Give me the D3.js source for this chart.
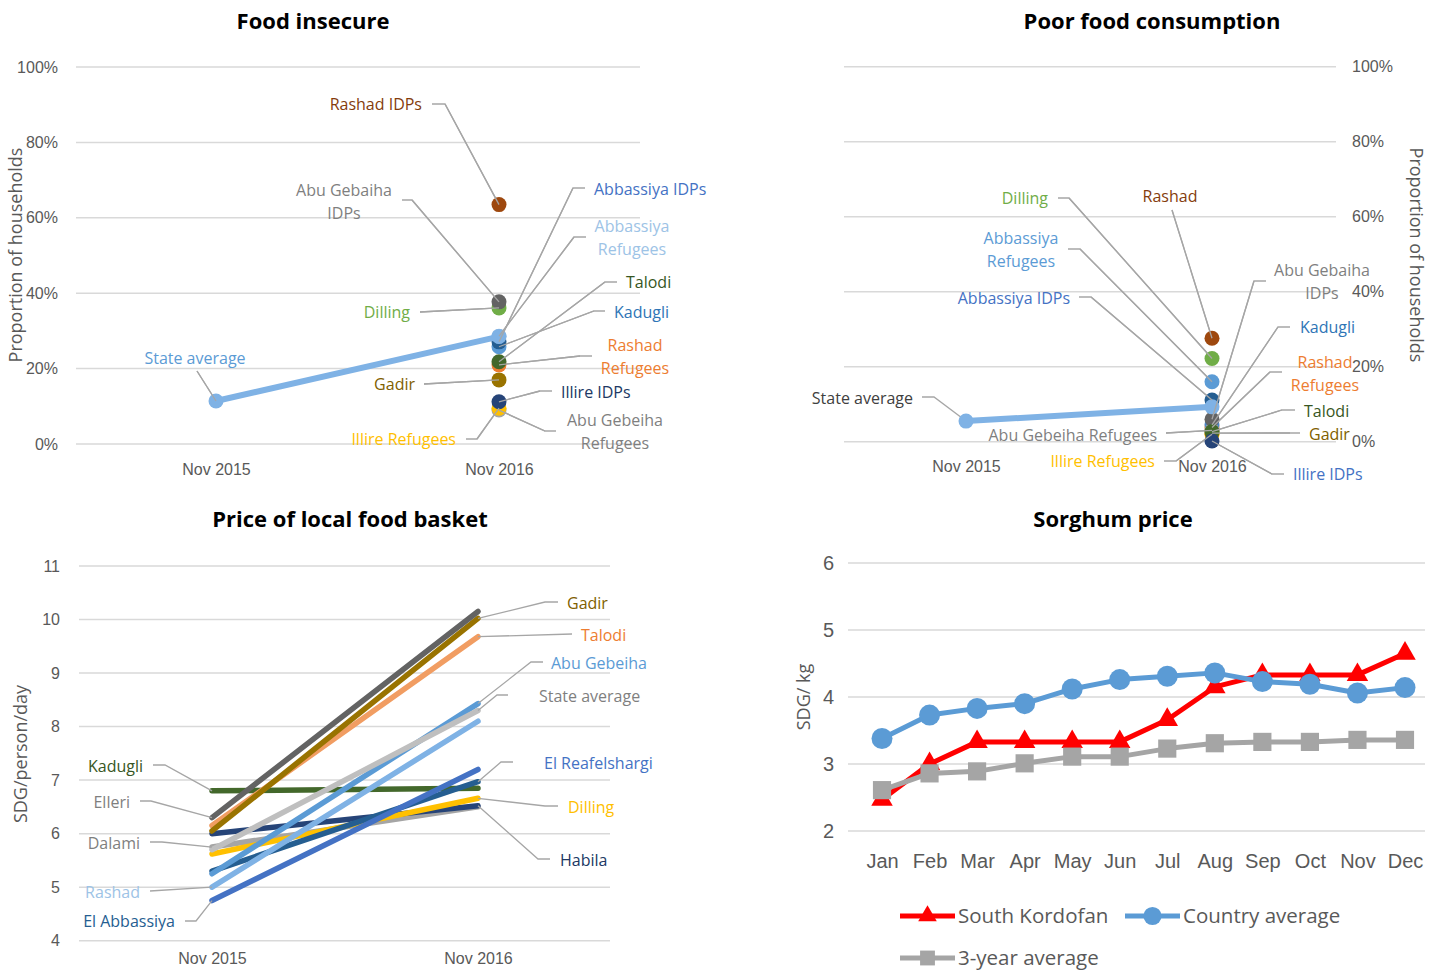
<!DOCTYPE html>
<html>
<head>
<meta charset="utf-8">
<script src="https://cdn.jsdelivr.net/npm/d3@7"></script>
<style>
  html, body { margin: 0; padding: 0; background: #fff; }
  svg { display: block; font-family: "Open Sans", "Noto Sans", sans-serif; }
</style>
</head>
<body>
<svg id="chart" width="1439" height="972"></svg>
<script>
// ---------- data ----------
const periods = ["Nov 2015", "Nov 2016"];

// Food insecure (% of households), Nov 2016 by group
const fiGroups = ["Rashad IDPs", "Abu Gebeiha Refugees", "Illire Refugees", "Illire IDPs", "Gadir",
  "Rashad Refugees", "Talodi", "Kadugli", "Abbassiya IDPs", "Abbassiya Refugees", "Dilling", "Abu Gebaiha IDPs"];
const fiValues = [63.5, 9.0, 9.5, 11.2, 17.0, 21.0, 21.8, 25.8, 27.1, 28.6, 36.1, 37.7];
const fiDotColors = ["#9e480e", "#a5a5a5", "#ffc000", "#264478", "#997300",
  "#ed7d31", "#43682b", "#5b9bd5", "#255e91", "#9dc3e6", "#70ad47", "#636363"];
const fiLabelColors = ["#843c0c", "#7f7f7f", "#ffc000", "#203864", "#7f6000",
  "#ed7d31", "#375623", "#2e75b6", "#4472c4", "#9dc3e6", "#70ad47", "#7f7f7f"];
const fiStateAverage = [11.4, 28.5];

// Poor food consumption (% of households), Nov 2016 by group
const pfGroups = ["Rashad", "Dilling", "Abbassiya Refugees", "Abbassiya IDPs", "Rashad Refugees", "Kadugli",
  "Abu Gebeiha Refugees", "Illire Refugees", "Abu Gebaiha IDPs", "Gadir", "Talodi", "Illire IDPs"];
const pfValues = [27.6, 22.2, 16.0, 11.1, 3.8, 4.5, 3.0, 2.0, 6.0, 2.3, 2.7, 0.2];
const pfDotColors = ["#9e480e", "#70ad47", "#5b9bd5", "#255e91", "#ed7d31", "#4a86c8",
  "#a5a5a5", "#ffc000", "#636363", "#997300", "#43682b", "#264478"];
const pfLabelColors = ["#843c0c", "#70ad47", "#5b9bd5", "#4472c4", "#ed7d31", "#2e75b6",
  "#7f7f7f", "#ffc000", "#7f7f7f", "#7f6000", "#375623", "#4472c4"];
const pfStateAverage = [5.5, 9.3];

// Price of local food basket (SDG/person/day)
const basketLocalities = ["Kadugli", "Dalami", "Habila", "Dilling", "El Reafelshargi", "El Abbassiya",
  "Rashad", "Abu Gebeiha", "State average", "Talodi", "Gadir", "Elleri"];
const basket2015 = [6.8, 5.75, 6.0, 5.62, 5.3, 4.75, 5.0, 5.25, 5.7, 6.15, 6.05, 6.3];
const basket2016 = [6.85, 6.5, 6.52, 6.66, 6.97, 7.2, 8.1, 8.43, 8.3, 9.68, 10.02, 10.15];
const basketColors = ["#43682b", "#a5a5a5", "#264478", "#ffc000", "#255e91", "#4472c4",
  "#7fb2e5", "#5b9bd5", "#bfbfbf", "#f19d62", "#997300", "#636363"];
const basketLabelColors = ["#375623", "#7f7f7f", "#203864", "#ffc000", "#4472c4", "#255e91",
  "#9dc3e6", "#5b9bd5", "#7f7f7f", "#ed7d31", "#7f6000", "#7f7f7f"];
const basketTicks = [4, 5, 6, 7, 8, 9, 10, 11];

// Sorghum price (SDG/kg)
const months = ["Jan", "Feb", "Mar", "Apr", "May", "Jun", "Jul", "Aug", "Sep", "Oct", "Nov", "Dec"];
const sorghumSouthKordofan = [2.47, 3.0, 3.33, 3.33, 3.33, 3.33, 3.66, 4.15, 4.33, 4.33, 4.33, 4.65];
const sorghumCountry = [3.38, 3.73, 3.83, 3.9, 4.12, 4.26, 4.31, 4.36, 4.23, 4.19, 4.06, 4.14];
const sorghum3yr = [2.61, 2.86, 2.89, 3.01, 3.11, 3.11, 3.23, 3.31, 3.33, 3.33, 3.36, 3.36];
const sorghumTicks = [2, 3, 4, 5, 6];
const pctTicks = [0, 20, 40, 60, 80, 100];

// ---------- label layout (text anchor points and leader elbows) ----------
const fiLabelLayout = {
  "Rashad IDPs":          { lines: ["Rashad IDPs"], x: 422, y: 104, anchor: "end", leader: [[432, 104], [445, 104]] },
  "Abu Gebaiha IDPs":     { lines: ["Abu Gebaiha", "IDPs"], x: 344, y: 190, anchor: "middle", leader: [[402, 200], [412, 200]] },
  "Dilling":              { lines: ["Dilling"], x: 410, y: 312, anchor: "end", leader: [[420, 312]] },
  "Gadir":                { lines: ["Gadir"], x: 415, y: 384, anchor: "end", leader: [[424, 384]] },
  "Illire Refugees":      { lines: ["Illire Refugees"], x: 456, y: 439, anchor: "end", leader: [[466, 439], [477, 439]] },
  "Abbassiya IDPs":       { lines: ["Abbassiya IDPs"], x: 594, y: 189, anchor: "start", leader: [[585, 188], [573, 188]] },
  "Abbassiya Refugees":   { lines: ["Abbassiya", "Refugees"], x: 632, y: 226, anchor: "middle", leader: [[586, 237], [574, 237]] },
  "Talodi":               { lines: ["Talodi"], x: 626, y: 282, anchor: "start", leader: [[617, 282], [605, 282]] },
  "Kadugli":              { lines: ["Kadugli"], x: 614, y: 312, anchor: "start", leader: [[605, 311], [594, 311]] },
  "Rashad Refugees":      { lines: ["Rashad", "Refugees"], x: 635, y: 345, anchor: "middle", leader: [[592, 356], [580, 356]] },
  "Illire IDPs":          { lines: ["Illire IDPs"], x: 561, y: 392, anchor: "start", leader: [[552, 391], [540, 391]] },
  "Abu Gebeiha Refugees": { lines: ["Abu Gebeiha", "Refugees"], x: 615, y: 420, anchor: "middle", leader: [[556, 431], [545, 431]] }
};
const fiAvgLabel = { lines: ["State average"], x: 195, y: 358, anchor: "middle", leader: [[197, 371]] };

const pfLabelLayout = {
  "Dilling":              { lines: ["Dilling"], x: 1048, y: 198, anchor: "end", leader: [[1058, 198], [1069, 198]] },
  "Rashad":               { lines: ["Rashad"], x: 1170, y: 196, anchor: "middle", leader: [[1172, 210]] },
  "Abbassiya Refugees":   { lines: ["Abbassiya", "Refugees"], x: 1021, y: 238, anchor: "middle", leader: [[1068, 249], [1080, 249]] },
  "Abbassiya IDPs":       { lines: ["Abbassiya IDPs"], x: 1070, y: 298, anchor: "end", leader: [[1079, 297], [1091, 297]] },
  "Abu Gebeiha Refugees": { lines: ["Abu Gebeiha Refugees"], x: 1157, y: 435, anchor: "end", leader: [[1166, 433]] },
  "Illire Refugees":      { lines: ["Illire Refugees"], x: 1155, y: 461, anchor: "end", leader: [[1164, 461], [1176, 461]] },
  "Abu Gebaiha IDPs":     { lines: ["Abu Gebaiha", "IDPs"], x: 1322, y: 270, anchor: "middle", leader: [[1266, 281], [1254, 281]] },
  "Kadugli":              { lines: ["Kadugli"], x: 1300, y: 327, anchor: "start", leader: [[1290, 327], [1278, 327]] },
  "Rashad Refugees":      { lines: ["Rashad", "Refugees"], x: 1325, y: 362, anchor: "middle", leader: [[1282, 372], [1270, 372]] },
  "Talodi":               { lines: ["Talodi"], x: 1304, y: 411, anchor: "start", leader: [[1295, 410], [1282, 410]] },
  "Gadir":                { lines: ["Gadir"], x: 1309, y: 434, anchor: "start", leader: [[1300, 433], [1290, 433]] },
  "Illire IDPs":          { lines: ["Illire IDPs"], x: 1293, y: 474, anchor: "start", leader: [[1284, 474], [1272, 474]] }
};
const pfAvgLabel = { lines: ["State average"], x: 913, y: 398, anchor: "end", leader: [[922, 397], [934, 397]] };

// which end of the line each basket label points to
const basketLabelLayout = {
  "Kadugli":         { end: 0, lines: ["Kadugli"], x: 143, y: 766, anchor: "end", leader: [[153, 765], [165, 765]] },
  "Elleri":          { end: 0, lines: ["Elleri"], x: 130, y: 802, anchor: "end", leader: [[140, 801], [151, 801]] },
  "Dalami":          { end: 0, lines: ["Dalami"], x: 140, y: 843, anchor: "end", leader: [[150, 842], [162, 842]] },
  "Rashad":          { end: 0, lines: ["Rashad"], x: 140, y: 892, anchor: "end", leader: [[150, 891]] },
  "El Abbassiya":    { end: 0, lines: ["El Abbassiya"], x: 175, y: 921, anchor: "end", leader: [[185, 921], [196, 921]] },
  "Gadir":           { end: 1, lines: ["Gadir"], x: 567, y: 603, anchor: "start", leader: [[558, 602], [545, 602]] },
  "Talodi":          { end: 1, lines: ["Talodi"], x: 581, y: 635, anchor: "start", leader: [[572, 634]] },
  "Abu Gebeiha":     { end: 1, lines: ["Abu Gebeiha"], x: 551, y: 663, anchor: "start", leader: [[543, 662], [531, 662]] },
  "State average":   { end: 1, lines: ["State average"], x: 539, y: 696, anchor: "start", leader: [[508, 695], [497, 695]] },
  "El Reafelshargi": { end: 1, lines: ["El Reafelshargi"], x: 544, y: 763, anchor: "start", leader: [[513, 762], [501, 762]] },
  "Dilling":         { end: 1, lines: ["Dilling"], x: 568, y: 807, anchor: "start", leader: [[558, 806], [545, 806]] },
  "Habila":          { end: 1, lines: ["Habila"], x: 560, y: 860, anchor: "start", leader: [[550, 859], [538, 859]] }
};

// ---------- helpers ----------
const svg = d3.select("#chart");
const GRID = "#d9d9d9", TXT = "#595959", LEADER = "#a6a6a6";
const FS = 16;
const TEXT_DY = 1.5; // optical centring of text on its anchor line

function title(text, x, y) {
  svg.append("text").attr("x", x).attr("y", y + TEXT_DY).attr("text-anchor", "middle")
    .attr("dominant-baseline", "middle").attr("font-size", 22).attr("font-weight", 700)
    .attr("fill", "#000").text(text);
}

function gridY(g, scale, ticks, x0, x1) {
  g.selectAll(null).data(ticks).enter().append("line")
    .attr("x1", x0).attr("x2", x1)
    .attr("y1", d => scale(d)).attr("y2", d => scale(d))
    .attr("stroke", GRID).attr("stroke-width", 1.5);
}

function styleAxis(ax, size) {
  ax.select(".domain").remove();
  ax.selectAll("text").attr("font-size", size).attr("fill", TXT).attr("font-family", null);
}

function label(g, lab, color, tx, ty, size) {
  const pts = lab.leader.concat([[tx, ty]]);
  g.append("path").attr("d", d3.line()(pts)).attr("fill", "none")
    .attr("stroke", LEADER).attr("stroke-width", 1.3);
  const t = g.append("text").attr("text-anchor", lab.anchor).attr("fill", color)
    .attr("font-size", size || FS);
  lab.lines.forEach((s, i) => {
    t.append("tspan").attr("x", lab.x).attr("y", lab.y + TEXT_DY + i * 23)
      .attr("dominant-baseline", "middle").text(s);
  });
}

function yTitle(x, y, text, rot, size) {
  svg.append("text").attr("transform", `translate(${x},${y}) rotate(${rot})`)
    .attr("text-anchor", "middle").attr("dominant-baseline", "middle")
    .attr("font-size", size || 18).attr("fill", TXT).text(text);
}

// ---------- Panel 1: Food insecure ----------
(function () {
  const g = svg.append("g");
  const x = d3.scalePoint().domain(periods).range([216, 499]);
  const y = d3.scaleLinear().domain([0, 100]).range([444, 67]);
  title("Food insecure", 313, 22);
  gridY(g, y, pctTicks, 76, 640);
  styleAxis(g.append("g").attr("transform", "translate(61,0)")
    .call(d3.axisLeft(y).tickValues(pctTicks).tickFormat(d => d + "%").tickSize(0)), FS);
  styleAxis(g.append("g").attr("transform", "translate(0,461)")
    .call(d3.axisBottom(x).tickSize(0)), FS);
  yTitle(17, 255, "Proportion of households", -90, 18);

  const layer = g.append("g");
  fiGroups.forEach((name, i) => {
    label(layer, fiLabelLayout[name], fiLabelColors[i], x("Nov 2016"), y(fiValues[i]));
  });
  label(layer, fiAvgLabel, "#5b9bd5", x("Nov 2015"), y(fiStateAverage[0]));

  fiGroups.forEach((name, i) => {
    g.append("circle").attr("cx", x("Nov 2016")).attr("cy", y(fiValues[i])).attr("r", 7.5)
      .attr("fill", fiDotColors[i]);
  });
  g.append("path").datum(fiStateAverage)
    .attr("d", d3.line().x((d, i) => x(periods[i])).y(d => y(d)))
    .attr("fill", "none").attr("stroke", "#7fb2e5").attr("stroke-width", 6);
  g.selectAll(null).data(fiStateAverage).enter().append("circle")
    .attr("cx", (d, i) => x(periods[i])).attr("cy", d => y(d)).attr("r", 7.5).attr("fill", "#7fb2e5");
  // last leg of each leader sits over the dots
  fiGroups.forEach((name, i) => {
    const lab = fiLabelLayout[name];
    const last = lab.leader[lab.leader.length - 1];
    g.append("path").attr("d", d3.line()([last, [x("Nov 2016"), y(fiValues[i])]])).attr("fill", "none")
      .attr("stroke", LEADER).attr("stroke-width", 1.3);
  });
  g.append("path").attr("d", d3.line()([fiAvgLabel.leader[0], [x("Nov 2015"), y(fiStateAverage[0])]]))
    .attr("stroke", LEADER).attr("stroke-width", 1.3);
})();

// ---------- Panel 2: Poor food consumption ----------
(function () {
  const g = svg.append("g");
  const x = d3.scalePoint().domain(periods).range([966, 1212]);
  const y = d3.scaleLinear().domain([0, 100]).range([441.7, 66.7]);
  title("Poor food consumption", 1152, 22);
  gridY(g, y, pctTicks, 844, 1336);
  const ax = g.append("g").attr("transform", "translate(1352,0)")
    .call(d3.axisRight(y).tickValues(pctTicks).tickFormat(d => d + "%").tickSize(0));
  styleAxis(ax, FS);
  ax.selectAll("text").attr("x", 0);
  styleAxis(g.append("g").attr("transform", "translate(0,458)")
    .call(d3.axisBottom(x).tickSize(0)), FS);
  yTitle(1415, 255, "Proportion of households", 90, 18);

  const layer = g.append("g");
  pfGroups.forEach((name, i) => {
    label(layer, pfLabelLayout[name], pfLabelColors[i], x("Nov 2016"), y(pfValues[i]));
  });
  label(layer, pfAvgLabel, "#404040", x("Nov 2015"), y(pfStateAverage[0]));

  pfGroups.forEach((name, i) => {
    g.append("circle").attr("cx", x("Nov 2016")).attr("cy", y(pfValues[i])).attr("r", 7.5)
      .attr("fill", pfDotColors[i]);
  });
  g.append("path").datum(pfStateAverage)
    .attr("d", d3.line().x((d, i) => x(periods[i])).y(d => y(d)))
    .attr("fill", "none").attr("stroke", "#7fb2e5").attr("stroke-width", 6);
  g.selectAll(null).data(pfStateAverage).enter().append("circle")
    .attr("cx", (d, i) => x(periods[i])).attr("cy", d => y(d)).attr("r", 7.5).attr("fill", "#7fb2e5");
  pfGroups.forEach((name, i) => {
    const lab = pfLabelLayout[name];
    const last = lab.leader[lab.leader.length - 1];
    g.append("path").attr("d", d3.line()([last, [x("Nov 2016"), y(pfValues[i])]])).attr("fill", "none")
      .attr("stroke", LEADER).attr("stroke-width", 1.3);
  });
})();

// ---------- Panel 3: Price of local food basket ----------
(function () {
  const g = svg.append("g");
  const x = d3.scalePoint().domain(periods).range([212, 478]);
  const y = d3.scaleLinear().domain([4, 11]).range([940.7, 566]);
  title("Price of local food basket", 350, 520);
  gridY(g, y, basketTicks, 79, 610);
  styleAxis(g.append("g").attr("transform", "translate(63,0)")
    .call(d3.axisLeft(y).tickValues(basketTicks).tickFormat(d3.format("d")).tickSize(0)), FS);
  styleAxis(g.append("g").attr("transform", "translate(0,950)")
    .call(d3.axisBottom(x).tickSize(0)), FS);
  yTitle(22, 754, "SDG/person/day", -90, 18);

  const line = d3.line().x((d, i) => x(periods[i])).y(d => y(d));
  basketLocalities.forEach((name, i) => {
    g.append("path").datum([basket2015[i], basket2016[i]]).attr("d", line)
      .attr("fill", "none").attr("stroke", basketColors[i]).attr("stroke-width", 5.5)
      .attr("stroke-linecap", "round");
  });
  basketLocalities.forEach((name, i) => {
    const lab = basketLabelLayout[name];
    const v = lab.end === 0 ? basket2015[i] : basket2016[i];
    label(g, lab, basketLabelColors[i], x(periods[lab.end]), y(v));
  });
})();

// ---------- Panel 4: Sorghum price ----------
(function () {
  const g = svg.append("g");
  const x = d3.scalePoint().domain(months).range([882, 1405]);
  const y = d3.scaleLinear().domain([2, 6]).range([831, 563]);
  title("Sorghum price", 1113, 520);
  gridY(g, y, sorghumTicks, 848, 1425);
  styleAxis(g.append("g").attr("transform", "translate(837,0)")
    .call(d3.axisLeft(y).tickValues(sorghumTicks).tickFormat(d3.format("d")).tickSize(0)), 20);
  styleAxis(g.append("g").attr("transform", "translate(0,851)")
    .call(d3.axisBottom(x).tickSize(0)), 20);
  yTitle(805, 697, "SDG/ kg", -90, 18);

  const line = d3.line().x((d, i) => x(months[i])).y(d => y(d));
  const tri = d3.symbol().type(d3.symbolTriangle).size(200);
  const sq = d3.symbol().type(d3.symbolSquare).size(330);

  // South Kordofan
  g.append("path").datum(sorghumSouthKordofan).attr("d", line).attr("fill", "none")
    .attr("stroke", "#ff0000").attr("stroke-width", 5).attr("stroke-linejoin", "round");
  g.selectAll(null).data(sorghumSouthKordofan).enter().append("path")
    .attr("d", tri).attr("fill", "#ff0000")
    .attr("transform", (d, i) => `translate(${x(months[i])},${y(d)})`);
  // 3-year average
  g.append("path").datum(sorghum3yr).attr("d", line).attr("fill", "none")
    .attr("stroke", "#a5a5a5").attr("stroke-width", 5).attr("stroke-linejoin", "round");
  g.selectAll(null).data(sorghum3yr).enter().append("path")
    .attr("d", sq).attr("fill", "#a5a5a5")
    .attr("transform", (d, i) => `translate(${x(months[i])},${y(d)})`);
  // Country average
  g.append("path").datum(sorghumCountry).attr("d", line).attr("fill", "none")
    .attr("stroke", "#5b9bd5").attr("stroke-width", 5).attr("stroke-linejoin", "round");
  g.selectAll(null).data(sorghumCountry).enter().append("circle")
    .attr("cx", (d, i) => x(months[i])).attr("cy", d => y(d)).attr("r", 10.5).attr("fill", "#5b9bd5");

  // legend
  const legend = [
    { name: "South Kordofan", color: "#ff0000", shape: d3.symbol().type(d3.symbolTriangle).size(150)(), lx: 900, ly: 916 },
    { name: "Country average", color: "#5b9bd5", shape: d3.symbol().type(d3.symbolCircle).size(260)(), lx: 1125, ly: 916 },
    { name: "3-year average", color: "#a5a5a5", shape: d3.symbol().type(d3.symbolSquare).size(220)(), lx: 900, ly: 958 }
  ];
  legend.forEach(l => {
    g.append("line").attr("x1", l.lx).attr("x2", l.lx + 55).attr("y1", l.ly).attr("y2", l.ly)
      .attr("stroke", l.color).attr("stroke-width", 5);
    g.append("path").attr("d", l.shape).attr("fill", l.color)
      .attr("transform", `translate(${l.lx + 27.5},${l.ly})`);
    g.append("text").attr("x", l.lx + 58).attr("y", l.ly + TEXT_DY).attr("dominant-baseline", "middle")
      .attr("font-size", 20.5).attr("fill", TXT).text(l.name);
  });
})();
</script>
</body>
</html>
